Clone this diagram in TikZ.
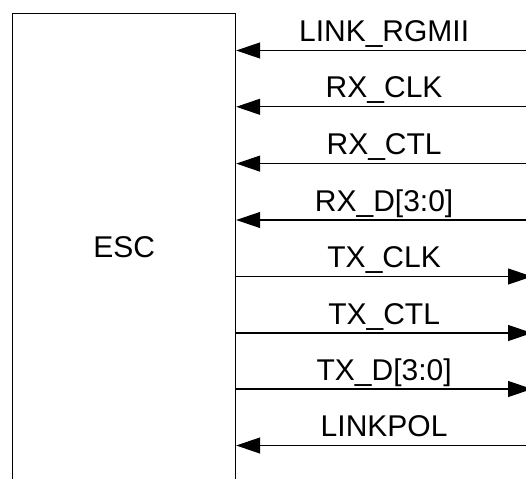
\documentclass[tikz,border=0pt]{standalone}
\usepackage{fontspec}
\setmainfont{Liberation Sans}
\usetikzlibrary{arrows.meta}
\begin{document}
\begin{tikzpicture}[x=1pt,y=-1pt,
  wire/.style={line width=1.2pt},
  tipin/.style={wire,-{Triangle[length=24pt,width=16pt]}},
  sig/.style={anchor=base,yshift=9pt,inner sep=0pt,font=\fontsize{30}{36}\selectfont},
  blk/.style={draw,line width=1.2pt,minimum width=223pt,minimum height=468pt,inner sep=0pt,anchor=north west,font=\fontsize{30}{36}\selectfont}]
\useasboundingbox (0,0) rectangle (526,478);
\node[blk] (esc) at (12,13) {ESC};
\coordinate (p1) at (532,50.5);
\coordinate (p2) at (532,106.8);
\coordinate (p3) at (532,163.6);
\coordinate (p4) at (532,220);
\coordinate (p5) at (532,276.5);
\coordinate (p6) at (532,333);
\coordinate (p7) at (532,389);
\coordinate (p8) at (532,445.5);
% inputs
\draw[tipin] (p1) -- (esc.east |- p1) node[sig,midway] (l1) {LINK\_RGMII};
\draw[tipin] (p2) -- (esc.east |- p2) node[sig,midway] (l2) {RX\_CLK};
\draw[tipin] (p3) -- (esc.east |- p3) node[sig,midway] (l3) {RX\_CTL};
\draw[tipin] (p4) -- (esc.east |- p4) node[sig,midway] (l4) {RX\_D[3:0]};
% outputs
\draw[tipin] (esc.east |- p5) -- (p5) node[sig,midway] (l5) {TX\_CLK};
\draw[tipin] (esc.east |- p6) -- (p6) node[sig,midway] (l6) {TX\_CTL};
\draw[tipin] (esc.east |- p7) -- (p7) node[sig,midway] (l7) {TX\_D[3:0]};
% input
\draw[tipin] (p8) -- (esc.east |- p8) node[sig,midway] (l8) {LINKPOL};
\end{tikzpicture}
\end{document}
